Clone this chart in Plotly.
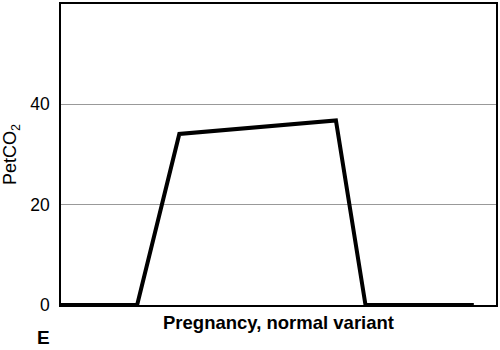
import plotly.graph_objects as go

# Data
x_vals = [0, 1.75, 2.72, 6.32, 7.0, 9.49]
petco2 = [0, 0, 34.1, 36.8, 0, 0]
y_ticks = [0, 20, 40]
x_title = "Pregnancy, normal variant"
y_title = "PetCO<sub>2</sub>"
panel_label = "E"

fig = go.Figure()
fig.add_trace(go.Scatter(
    x=x_vals, y=petco2, mode="lines",
    line=dict(color="black", width=4),
    showlegend=False, hoverinfo="skip",
))

font_family = "Liberation Sans, Arial, sans-serif"

plot_w = 500 - 61 - 2
plot_h = 350 - 2 - 45

fig.update_layout(
    width=500, height=350,
    margin=dict(l=61, r=2, t=2, b=45),
    paper_bgcolor="white", plot_bgcolor="white",
    font=dict(family=font_family, color="black", size=17),
    xaxis=dict(
        range=[0, 10], showticklabels=False, showgrid=False, zeroline=False,
        showline=True, linecolor="black", linewidth=1.5, mirror=True, ticks="",
        title=dict(text="<b>" + x_title + "</b>", font=dict(size=18.5), standoff=10),
    ),
    yaxis=dict(
        range=[0, 60], tickvals=y_ticks, showgrid=True, gridcolor="#999999", gridwidth=1,
        zeroline=False, showline=True, linecolor="black", linewidth=1.5, mirror=True,
        ticks="", ticklabelstandoff=6, tickfont=dict(size=17.5),
        title=dict(text=y_title, font=dict(size=18), standoff=14),
    ),
    annotations=[dict(
        text="<b>" + panel_label + "</b>",
        x=(43.5 - 61) / plot_w, y=(305 - 338) / plot_h,
        xref="paper", yref="paper",
        showarrow=False, font=dict(size=19, family=font_family, color="black"),
        xanchor="center", yanchor="middle",
    )],
)

fig.write_html("out.html")
